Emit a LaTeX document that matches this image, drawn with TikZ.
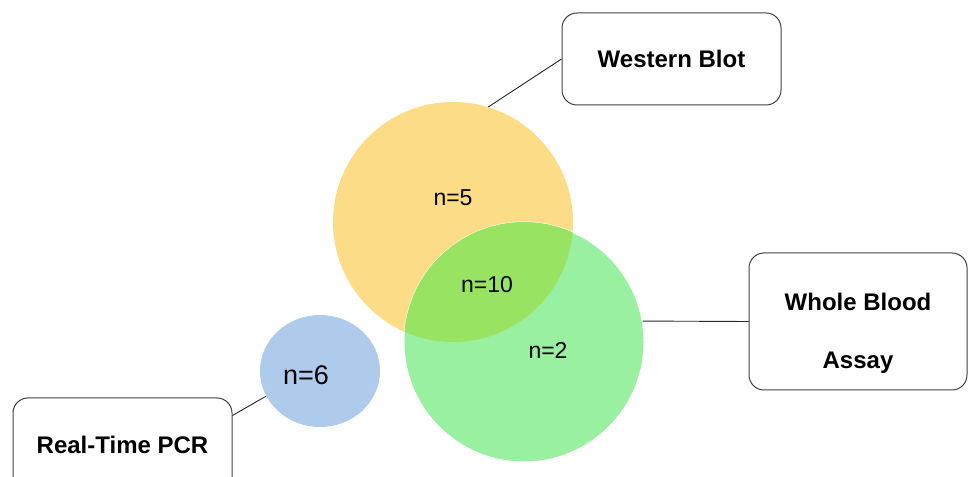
\documentclass[tikz,border=0pt]{standalone}
\usepackage{fontspec}
\setmainfont{Liberation Sans}
\usetikzlibrary{shapes.geometric}
\definecolor{wbyellow}{RGB}{253,220,135}
\definecolor{wbagreen}{RGB}{152,240,160}
\definecolor{bothgreen}{RGB}{152,228,98}
\definecolor{pcrblue}{RGB}{174,203,235}
\tikzstyle{labelbox} = [rectangle, rounded corners=15pt, minimum width=219pt, minimum height=92pt, text centered, draw=black!75, line width=1pt, font=\fontsize{24}{58}\selectfont\bfseries]
\tikzstyle{disc} = [circle, minimum size=240pt, inner sep=0pt]
\tikzstyle{count} = [font=\fontsize{23}{27}\selectfont]
\tikzstyle{link} = [draw=black!85, line width=0.9pt]

\begin{document}
\begin{tikzpicture}[x=1pt, y=1pt]
\useasboundingbox (0,0) rectangle (968,476);
\clip (0,0) rectangle (968,476);

\node (yellow) [disc, fill=wbyellow] at (453,254) {};
\node (green) [disc, fill=wbagreen, draw=white, line width=1pt] at (524,134) {};
\begin{scope}
\clip (453,254) circle (120);
\fill [bothgreen] (524,134) circle (120);
\end{scope}
\node (blue) [ellipse, minimum width=120pt, minimum height=112pt, inner sep=0pt, fill=pcrblue] at (320,105) {};

\node (n5) [count] at (453,278) {n=5};
\node (n10) [count] at (487,191) {n=10};
\node (n2) [count] at (548,126) {n=2};
\node (n6) [count, font=\fontsize{27}{32}\selectfont] at (306,101) {n=6};

\node (wb) [labelbox] at (671.5,417) {Western Blot};
\node (wba) [labelbox, minimum width=218pt, minimum height=137pt] at (858,154.5) {};
\node (wbatext) [align=center, font=\fontsize{24}{58}\selectfont\bfseries] at ([yshift=-12pt]wba.center) {Whole Blood\\Assay};
\node (pcr) [labelbox, minimum height=94pt] at (122.5,31) {Real-Time PCR};

\draw [link](wb.west) -- (yellow.73);
\draw [link](green.10) -- (wba.west);
\draw [link](pcr.15) -- (blue.205);

\end{tikzpicture}
\end{document}
